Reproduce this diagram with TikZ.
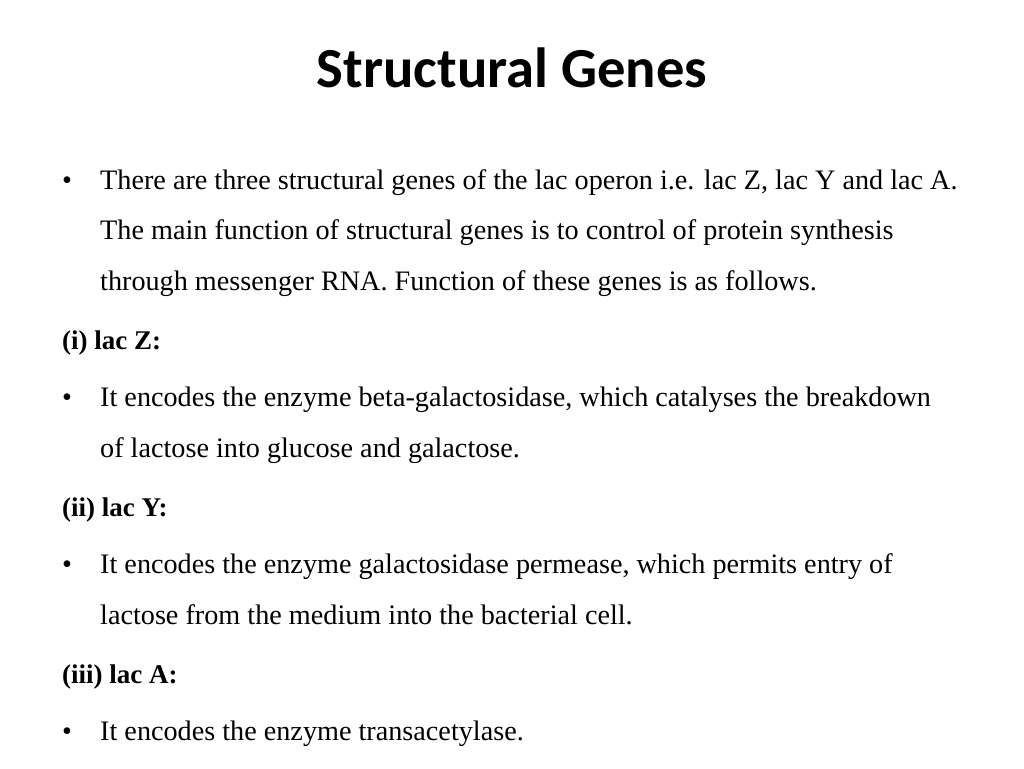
\documentclass[tikz,border=0pt]{standalone}
\usepackage{fontspec}
\setmainfont{Liberation Serif}
\newfontfamily\titlefont{Carlito}
\begin{document}
\begin{tikzpicture}[x=1pt,y=-1pt,
  body/.style={anchor=base west,inner sep=0pt,font=\fontsize{28.2}{32}\selectfont},
  hd/.style={body,font=\fontsize{27}{32}\selectfont\bfseries}]
\useasboundingbox (0,0) rectangle (1024,768);
\node[anchor=base,inner sep=0pt,font=\fontsize{56.6}{60}\selectfont\titlefont\bfseries] (title) at (512,87) {Structural Genes};
\node[body] (b1) at (62,189) {•};
\node[body] (l1) at (100,189) {There are three structural genes of the lac operon i.e. lac Z, lac Y and lac A.};
\node[body] (l2) at (100,239) {The main function of structural genes is to control of protein synthesis};
\node[body] (l3) at (100,290) {through messenger RNA. Function of these genes is as follows.};
\node[hd] (h1) at (62,349) {(i) lac Z:};
\node[body] (b2) at (62,406) {•};
\node[body] (l4) at (100,406) {It encodes the enzyme beta-galactosidase, which catalyses the breakdown};
\node[body] (l5) at (100,457) {of lactose into glucose and galactose.};
\node[hd] (h2) at (62,516) {(ii) lac Y:};
\node[body] (b3) at (62,573) {•};
\node[body] (l6) at (100,573) {It encodes the enzyme galactosidase permease, which permits entry of};
\node[body] (l7) at (100,624) {lactose from the medium into the bacterial cell.};
\node[hd] (h3) at (62,683) {(iii) lac A:};
\node[body] (b4) at (62,740) {•};
\node[body] (l8) at (100,740) {It encodes the enzyme transacetylase.};
\end{tikzpicture}
\end{document}
